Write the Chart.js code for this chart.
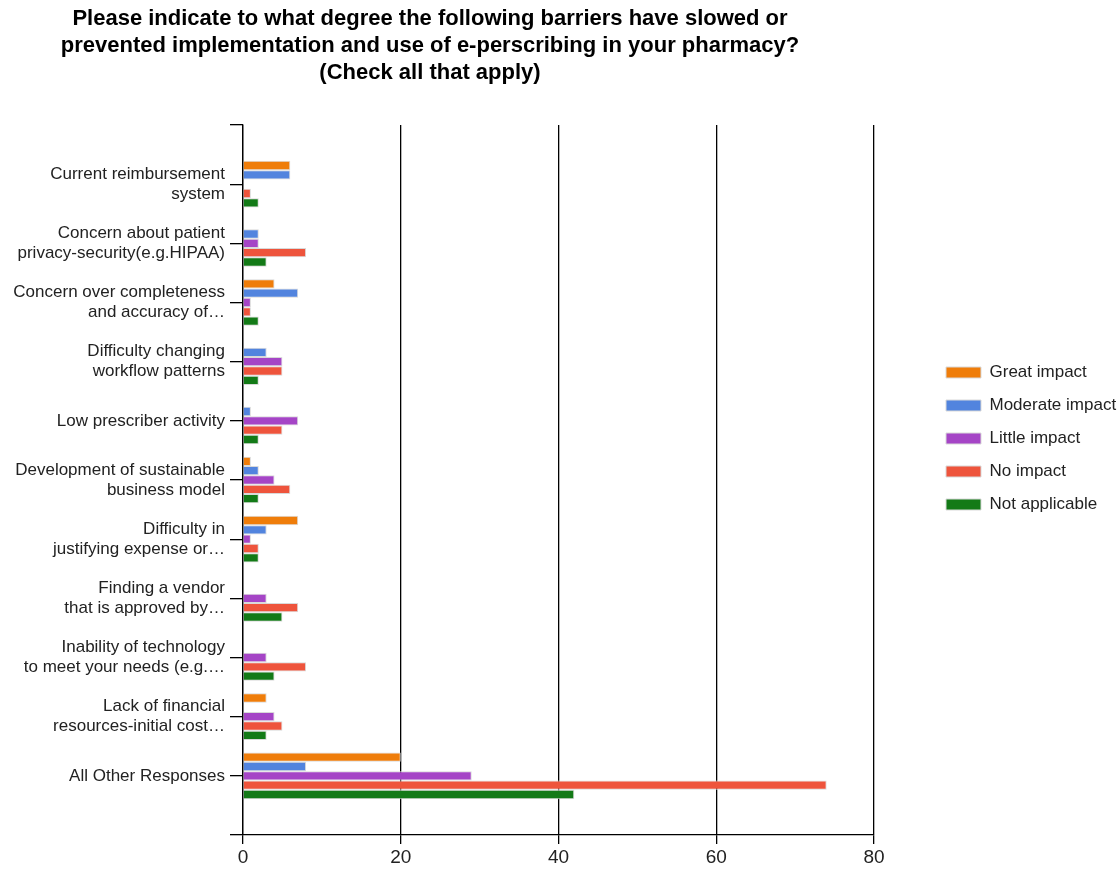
<!DOCTYPE html>
<html>
<head>
<meta charset="utf-8">
<script src="https://cdn.jsdelivr.net/npm/chart.js@4/dist/chart.umd.min.js"></script>
<style>
  html, body { margin: 0; padding: 0; background: #fff; }
  canvas { display: block; }
</style>
</head>
<body>
<canvas id="chart" width="1120" height="870"></canvas>
<script>
// Survey question shown as the chart title
const titleLines = [
  'Please indicate to what degree the following barriers have slowed or',
  'prevented implementation and use of e-perscribing in your pharmacy?',
  '(Check all that apply)'
];

// Barriers (category axis, top to bottom)
const barriers = [
  ['Current reimbursement', 'system'],
  ['Concern about patient', 'privacy-security(e.g.HIPAA)'],
  ['Concern over completeness', 'and accuracy of…'],
  ['Difficulty changing', 'workflow patterns'],
  'Low prescriber activity',
  ['Development of sustainable', 'business model'],
  ['Difficulty in', 'justifying expense or…'],
  ['Finding a vendor', 'that is approved by…'],
  ['Inability of technology', 'to meet your needs (e.g.…'],
  ['Lack of financial', 'resources-initial cost…'],
  'All Other Responses'
];

// Response counts per barrier
const seriesNames    = ['Great impact', 'Moderate impact', 'Little impact', 'No impact', 'Not applicable'];
const greatImpact    = [6, 0, 4, 0, 0, 1, 7, 0, 0, 3, 20];
const moderateImpact = [6, 2, 7, 3, 1, 2, 3, 0, 0, 0, 8];
const littleImpact   = [0, 2, 1, 5, 7, 4, 1, 3, 3, 4, 29];
const noImpact       = [1, 8, 1, 5, 5, 6, 2, 7, 8, 5, 74];
const notApplicable  = [2, 3, 2, 2, 2, 2, 2, 5, 4, 3, 42];

// Value axis ticks
const xTicks = [0, 20, 40, 60, 80];

const seriesColors = ['#ef7d0a', '#5284de', '#a545c6', '#ee543c', '#137a17'];
const FONT = 'Liberation Sans, Arial, sans-serif';

// An empty slot above and below the categories leaves the gaps at both ends of the axis
const axisLabels = [''].concat(barriers, ['']);
const padSeries = arr => [null].concat(arr, [null]);

const seriesValues = [greatImpact, moderateImpact, littleImpact, noImpact, notApplicable];
const datasets = seriesNames.map((name, i) => ({
  label: name,
  data: padSeries(seriesValues[i]),
  backgroundColor: seriesColors[i],
  borderColor: '#d9d9d9',
  borderWidth: 1,
  categoryPercentage: 0.79,
  barPercentage: 1.0
}));

// Keeps the legend well to the right of the plot and the title centred over the plot
const layoutTweaks = {
  id: 'layoutTweaks',
  beforeLayout(chart) {
    const lg = chart.legend;
    if (lg && !lg._wideFit) {
      const fit = lg.fit;
      lg.fit = function () { fit.call(this); this.width = 246; };
      lg._wideFit = true;
    }
  },
  afterLayout(chart) {
    const lg = chart.legend;
    if (lg) { lg.left = 930; lg.top = 348; }
    if (chart.titleBlock) { chart.titleBlock.left = 0; chart.titleBlock.right = 860; }
  }
};

new Chart(document.getElementById('chart'), {
  type: 'bar',
  data: { labels: axisLabels, datasets },
  plugins: [layoutTweaks],
  options: {
    indexAxis: 'y',
    responsive: false,
    animation: false,
    devicePixelRatio: 1,
    layout: { padding: 0 },
    plugins: {
      title: {
        display: true,
        text: titleLines,
        color: '#000',
        font: { family: FONT, size: 22, weight: 'bold', lineHeight: 27 / 22 },
        padding: { top: 5, bottom: 39 }
      },
      legend: {
        position: 'right',
        align: 'start',
        labels: {
          boxWidth: 35,
          boxHeight: 11,
          padding: 16,
          color: '#222',
          font: { family: FONT, size: 17 }
        }
      },
      tooltip: { enabled: false }
    },
    scales: {
      x: {
        type: 'linear',
        position: 'bottom',
        min: 0,
        max: 80,
        afterBuildTicks(s) { s.ticks = xTicks.map(v => ({ value: v })); },
        afterFit(s) { s.height = 35; },
        grid: { color: '#000', lineWidth: 1.3, tickLength: 9 },
        border: { display: true, color: '#000', width: 1.3 },
        ticks: { color: '#222', padding: 2, maxRotation: 0, autoSkip: false, font: { family: FONT, size: 19 } }
      },
      y: {
        type: 'category',
        offset: false,
        afterFit(s) { s.width = 243; },
        grid: { offset: false, drawOnChartArea: false, tickLength: 13, color: '#000', lineWidth: 1.3 },
        border: { display: true, color: '#000', width: 1.3 },
        ticks: { color: '#222', padding: 5, autoSkip: false, font: { family: FONT, size: 17, lineHeight: 20 / 17 } }
      }
    }
  }
});
</script>
</body>
</html>
